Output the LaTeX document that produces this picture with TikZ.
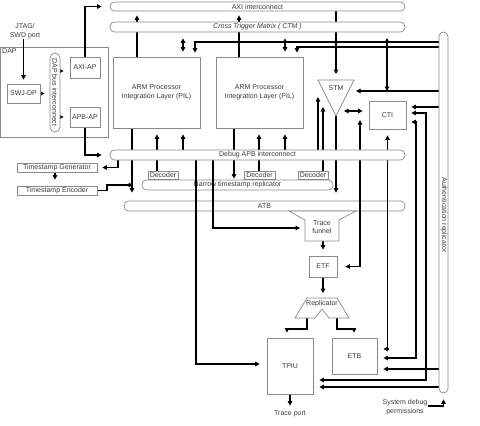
\documentclass[tikz,border=0pt]{standalone}
\usepackage{fontspec}
\setmainfont{Liberation Sans}
\usetikzlibrary{arrows.meta}
\definecolor{edgegray}{HTML}{8A8A8A}
\definecolor{txtgray}{HTML}{3C3C3C}
\pgfdeclarelayer{back}
\pgfdeclarelayer{wires}
\pgfsetlayers{back,wires,main}
\tikzset{
  lbl/.style={font=\fontsize{7}{8.5}\selectfont, text=txtgray, inner sep=0pt, align=center},
  box/.style={draw=edgegray, line width=0.7pt, fill=white, inner sep=0pt,
              font=\fontsize{7}{9.5}\selectfont, text=txtgray, align=center},
  bar/.style={box, rounded corners=4.5pt},
  outline/.style={draw=edgegray, line width=0.7pt, fill=white},
  wire/.style={draw=black, line width=1.1pt, -{Triangle[length=4.5pt,width=4.5pt]}},
  wire2/.style={draw=black, line width=1.1pt, {Triangle[length=4.5pt,width=4.5pt]}-{Triangle[length=4.5pt,width=4.5pt]}},
}
\begin{document}
\begin{tikzpicture}[x=1pt,y=-1pt]
\useasboundingbox (0,0) rectangle (480,426);

% ---------- transparent bars and DAP frame ----------
\begin{pgfonlayer}{back}
  \node[bar, fill=none, minimum width=191pt, minimum height=10pt] (narrow) at (237.5,185) {Narrow timestamp replicator};
  \node[bar, fill=none, minimum width=281pt, minimum height=10pt] (atb) at (264.5,206) {ATB};
  \node[box, fill=none, minimum width=107.5pt, minimum height=90pt] (dap) at (54.25,92) {};
\end{pgfonlayer}

% ---------- bars ----------
\node[bar, minimum width=295pt, minimum height=9pt] (axi) at (257.5,6.5) {AXI interconnect};
\node[bar, minimum width=295pt, minimum height=10pt, font=\fontsize{7}{8.5}\selectfont\itshape] (ctm) at (257.5,27) {Cross Trigger Matrix ( CTM )};
\node[bar, minimum width=295pt, minimum height=10pt] (apb) at (257.5,155) {Debug APB interconnect};
\node[bar, minimum width=9pt, minimum height=361pt] (auth) at (443.5,212.5) {};
\node[lbl, rotate=-90] (authlbl) at (444,215) {Authentication replicator};

% ---------- DAP ----------
\node[lbl, anchor=north west] (daplbl) at (2,48.5) {DAP};
\node[lbl] (jtag) at (25,31) {JTAG/\\SWD port};
\node[box, minimum width=33pt, minimum height=19pt] (swjdp) at (23.5,93.5) {SWJ-DP};
\node[bar, rounded corners=5pt, minimum width=10pt, minimum height=79pt] (dapbus) at (55,92.5) {};
\node[lbl, rotate=-90] (dapbuslbl) at (55,92.5) {DAP bus interconnect};
\node[box, minimum width=30pt, minimum height=21pt] (axiap) at (85,67.5) {AXI-AP};
\node[box, minimum width=30pt, minimum height=20pt] (apbap) at (85,117) {APB-AP};

% ---------- processors, STM, CTI ----------
\node[box, minimum width=87pt, minimum height=71pt] (pil1) at (156.5,92.5) {ARM Processor\\Integration Layer (PIL)};
\node[box, minimum width=87pt, minimum height=71pt] (pil2) at (259.5,92.5) {ARM Processor\\Integration Layer (PIL)};
\coordinate (stmTL) at (318,80);
\coordinate (stmTR) at (354,80);
\coordinate (stmbot) at (336,116);
\draw[outline] (stmTL) -- (stmTR) -- (stmbot) -- cycle;
\node[lbl] (stmlbl) at (336,88) {STM};
\node[box, minimum width=37pt, minimum height=28pt] (cti) at (387.5,115) {CTI};

% ---------- timestamp ----------
\node[box, minimum width=80pt, minimum height=9pt] (tsgen) at (57,167.5) {Timestamp Generator};
\node[box, minimum width=80pt, minimum height=9pt] (tsenc) at (57,190.5) {Timestamp Encoder};
\node[box, minimum width=30pt, minimum height=8pt] (dec1) at (163,175) {Decoder};
\node[box, minimum width=31pt, minimum height=8pt] (dec2) at (259.5,175) {Decoder};
\node[box, minimum width=30pt, minimum height=8pt] (dec3) at (313,175) {Decoder};

% ---------- trace path ----------
\coordinate (fTL) at (289,211);
\coordinate (fTR) at (356,211);
\coordinate (fBL) at (305,241);
\coordinate (fBR) at (339,241);
\draw[outline] (fTL) -- (fTR) -- (339,220) -- (fBR) -- (fBL) -- (305,220) -- cycle;
\node[lbl, font=\fontsize{7}{8}\selectfont] (funnellbl) at (322,227.5) {Trace\\funnel};
\node[box, minimum width=28pt, minimum height=21pt] (etf) at (323,266.5) {ETF};
\coordinate (repTL) at (307,298);
\coordinate (repTR) at (337,298);
\coordinate (repBL) at (307,318);
\coordinate (repBR) at (337,318);
\draw[outline] (repTL) -- (repTR) -- (349,318) -- (329,318) -- (322,309) -- (315,318) -- (295,318) -- cycle;
\node[lbl] (replbl) at (322,304) {Replicator};
\node[box, minimum width=46pt, minimum height=56pt] (tpiu) at (290,366) {TPIU};
\node[box, minimum width=45pt, minimum height=36pt] (etb) at (354.5,356) {ETB};
\node[lbl] (traceport) at (290,414) {Trace port};
\node[lbl] (sysdbg) at (405,407) {System debug\\permissions};
\coordinate (sysE) at (428,406);

% ---------- connectors ----------
\begin{pgfonlayer}{wires}
  % DAP
  \draw[wire, shorten >=4pt] (swjdp.north |- jtag.south) -- (swjdp.north);
  \draw[wire, shorten >=5pt] (swjdp.east) -- (dapbus.west |- swjdp.east);
  \draw[wire, shorten >=6pt] (dapbus.east |- 0,71) -- (axiap.west |- 0,71);
  \draw[wire, shorten >=6pt] (dapbus.east |- 0,117) -- (apbap.west |- 0,117);
  \draw[wire, shorten >=8pt] (axiap.north) |- (axi.west);
  \draw[wire, shorten >=8pt] (apbap.south) |- (apb.west);
  % processors to AXI
  \draw[wire, shorten >=4pt] (137,0 |- pil1.north) -- (137,0 |- axi.south);
  \draw[wire, shorten >=4pt] (239,0 |- pil2.north) -- (239,0 |- axi.south);
  \draw[wire, shorten >=6pt] (336,0 |- axi.south) -- (stmTL -| stmbot);
  % CTM
  \draw[wire2, shorten <=6pt, shorten >=5pt] (183,0 |- ctm.south) -- (183,0 |- pil1.north);
  \draw[wire2, shorten <=6pt, shorten >=5pt] (285,0 |- ctm.south) -- (285,0 |- pil2.north);
  \draw[wire, shorten >=4pt] (auth.west |- 0,42) -| (195,0 |- pil1.north);
  \draw[wire, shorten >=4pt] (auth.west |- 0,47) -| (297,0 |- pil2.north);
  \draw[wire2, shorten <=-4pt] (387,42) -- (387,91);
  \draw[wire, shorten >=8pt] (auth.west |- 0,91) -- (348,91);
  \draw[wire2, shorten >=6pt] (344,111) -- (cti.west |- 0,111);
  \draw[wire, shorten >=5pt] (auth.west |- 0,107) -- (cti.east |- 0,107);
  \draw[wire2, shorten <=5pt, shorten >=6pt] (cti.east |- 0,113) -- (426,113) -- (426,380) -- (tpiu.east |- 0,380);
  \draw[wire2, shorten <=5pt, shorten >=6pt] (cti.east |- 0,122) -- (416,122) -- (416,358) -- (etb.east |- 0,358);
  \draw[wire2, shorten <=6pt, shorten >=6pt] (cti.south) -- (cti.south |- 0,349) -- (etb.east |- 0,349);
  \draw[wire, shorten >=6pt] (auth.west |- 0,369) -- (etb.east |- 0,369);
  \draw[wire, shorten >=6pt] (auth.west |- 0,387) -- (tpiu.east |- 0,387);
  \draw[wire2, shorten <=8pt] (etf.east) -| (360,120);
  % STM
  \draw[wire, shorten >=8pt] (stmbot) -- (336,0 |- atb.north);
  \draw[wire] (318,0 |- apb.north) -- (318,97);
  \draw[wire] (323,0 |- dec3.north) -- (323,107);
  % APB to processors
  \draw[wire, shorten >=6pt] (157,0 |- dec1.north) -- (157,0 |- pil1.south);
  \draw[wire, shorten >=6pt] (183,0 |- apb.north) -- (183,0 |- pil1.south);
  \draw[wire, shorten >=6pt] (259,0 |- dec2.north) -- (259,0 |- pil2.south);
  \draw[wire, shorten >=6pt] (285,0 |- apb.north) -- (285,0 |- pil2.south);
  \draw[wire, shorten >=8pt] (132,0 |- pil1.south) -- (132,0 |- atb.north);
  \draw[wire, shorten >=1pt] (234,0 |- pil2.south) -- (234,0 |- narrow.north);
  % timestamp
  \draw[wire, shorten >=5pt] (118,0 |- apb.south) |- (tsgen.east);
  \draw[wire, shorten >=6pt] (55,0 |- tsgen.south) -- (55,0 |- tsenc.north);
  \draw[wire] (tsenc.east) -- (107,190.5) -- (107,185) -- (133,185);
  % APB to funnel and TPIU
  \draw[wire, shorten >=7pt] (196,0 |- apb.south) |- (tpiu.west |- 0,364);
  \draw[wire, shorten >=5pt] (213,0 |- apb.south) |- (305,228);
  % trace path
  \draw[wire, shorten >=6pt] (fBL -| etf.north) -- (etf.north);
  \draw[wire, shorten >=5pt] (etf.south) -- (etf.south |- repTL);
  \draw[wire, shorten >=5pt] (repBL) |- (287,329) -- (287,0 |- tpiu.north);
  \draw[wire, shorten >=5pt] (repBR) |- (354,329) -- (354,0 |- etb.north);
  \draw[wire, shorten >=5pt] (tpiu.south) -- (traceport.north);
  \draw[wire, shorten >=6pt] (sysE) -| (auth.south);
\end{pgfonlayer}
\end{tikzpicture}
\end{document}
